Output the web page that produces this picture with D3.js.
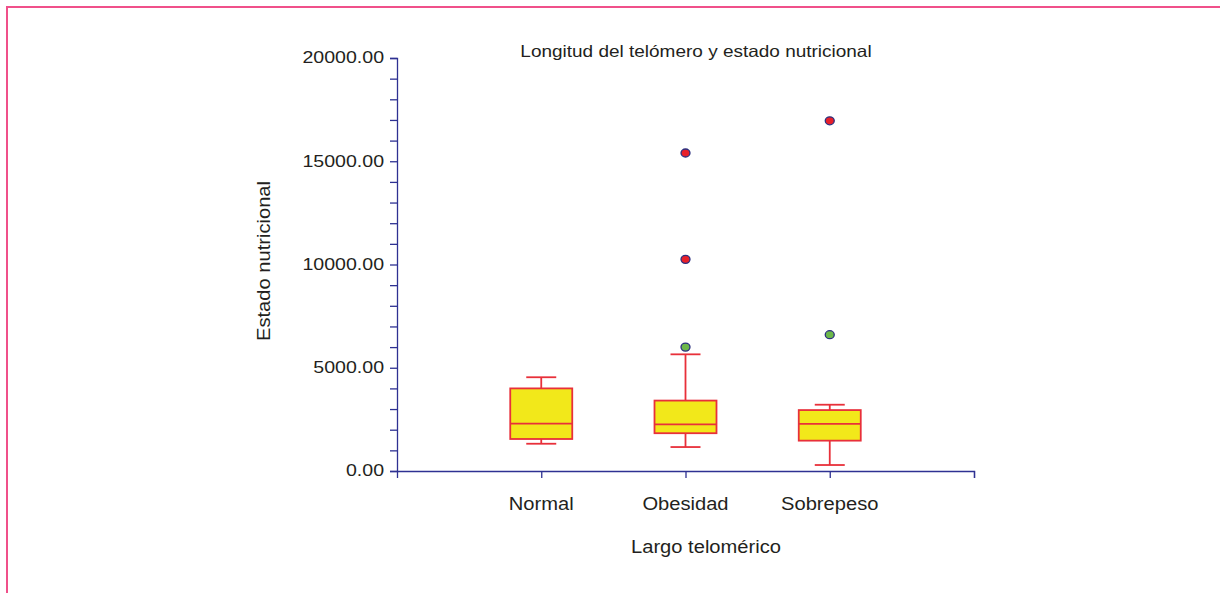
<!DOCTYPE html>
<html>
<head>
<meta charset="utf-8">
<script src="https://cdn.jsdelivr.net/npm/d3@7"></script>
<style>
  body { margin: 0; background: #fff; }
  svg text { font-family: "Liberation Sans", Arial, sans-serif; fill: #231f20; }
</style>
</head>
<body>
<div id="graf"></div>
<script>
// Données
const categories = ["Normal", "Obesidad", "Sobrepeso"];
const bigoteMin  = [1320, 1160, 290];
const cuartil1   = [1550, 1830, 1470];
const mediana    = [2290, 2260, 2280];
const cuartil3   = [4000, 3410, 2950];
const bigoteMax  = [4540, 5650, 3210];
// valores atípicos : [categoria, valor, tipo] (tipo "lejano" = rojo, "cercano" = verde)
const atipicos = [
  ["Obesidad", 6000, "cercano"],
  ["Obesidad", 10250, "lejano"],
  ["Obesidad", 15400, "lejano"],
  ["Sobrepeso", 6600, "cercano"],
  ["Sobrepeso", 16960, "lejano"]
];
const ticksMayores = [0, 5000, 10000, 15000, 20000];

const W = 1220, H = 593;
const svg = d3.select("#graf").append("svg").attr("width", W).attr("height", H);

// cadre rose (haut et gauche seulement)
svg.append("path").attr("d", "M7,593 V7 H1220")
  .attr("fill", "none").attr("stroke", "#f0508a").attr("stroke-width", 2);

const azul = "#2e3192";
const x = d3.scaleLinear().domain([0, 4]).range([397, 974]);
const y = d3.scaleLinear().domain([0, 20000]).range([471, 58]);
const pos = c => x(categories.indexOf(c) + 1);

// eje Y
const ejeY = svg.append("g").attr("transform", "translate(397,0)")
  .call(d3.axisLeft(y).tickValues(d3.range(0, 20001, 1000)).tickSize(7).tickPadding(6)
    .tickFormat(d => ticksMayores.includes(d) ? d3.format(".2f")(d) : ""));
ejeY.select(".domain").attr("stroke", azul).attr("stroke-width", 1.3);
ejeY.selectAll(".tick line").attr("stroke", azul).attr("stroke-width", 1.3);
ejeY.selectAll(".tick text").attr("font-size", 17).attr("fill", "#231f20")
  .attr("font-family", "Liberation Sans, Arial, sans-serif").attr("dy", "0.28em");

// eje X
const ejeX = svg.append("g").attr("transform", "translate(0,471)")
  .call(d3.axisBottom(x).tickValues([1, 2, 3, 4]).tickSize(7).tickFormat(""));
ejeX.select(".domain").attr("stroke", azul).attr("stroke-width", 1.3);
ejeX.selectAll(".tick line").attr("stroke", azul).attr("stroke-width", 1.3);

svg.selectAll(".etiq").data(categories).join("text")
  .attr("x", c => pos(c)).attr("y", 510)
  .attr("text-anchor", "middle").attr("font-size", 17.5).text(c => c);

// títulos
svg.append("text").attr("x", 696).attr("y", 57).attr("text-anchor", "middle")
  .attr("font-size", 16.5).text("Longitud del telómero y estado nutricional");
svg.append("text").attr("x", 706).attr("y", 553).attr("text-anchor", "middle")
  .attr("font-size", 17.5).text("Largo telomérico");
svg.append("text").attr("transform", "translate(270,261) rotate(-90)")
  .attr("text-anchor", "middle").attr("font-size", 17.5).text("Estado nutricional");

// cajas
const rojo = "#e8303a", amarillo = "#f2e81a";
const anchoCaja = 62, anchoTope = 30;
const cajas = svg.append("g");
categories.forEach((c, i) => {
  const cx = pos(c);
  const g = cajas.append("g").attr("stroke", rojo).attr("stroke-width", 1.8);
  g.append("line").attr("x1", cx).attr("x2", cx).attr("y1", y(bigoteMax[i])).attr("y2", y(cuartil3[i]));
  g.append("line").attr("x1", cx).attr("x2", cx).attr("y1", y(cuartil1[i])).attr("y2", y(bigoteMin[i]));
  g.append("line").attr("x1", cx - anchoTope / 2).attr("x2", cx + anchoTope / 2)
    .attr("y1", y(bigoteMax[i])).attr("y2", y(bigoteMax[i]));
  g.append("line").attr("x1", cx - anchoTope / 2).attr("x2", cx + anchoTope / 2)
    .attr("y1", y(bigoteMin[i])).attr("y2", y(bigoteMin[i]));
  g.append("rect").attr("x", cx - anchoCaja / 2).attr("width", anchoCaja)
    .attr("y", y(cuartil3[i])).attr("height", y(cuartil1[i]) - y(cuartil3[i]))
    .attr("fill", amarillo);
  g.append("line").attr("x1", cx - anchoCaja / 2).attr("x2", cx + anchoCaja / 2)
    .attr("y1", y(mediana[i])).attr("y2", y(mediana[i]));
});

// atípicos
svg.selectAll(".atip").data(atipicos).join("ellipse")
  .attr("cx", d => pos(d[0])).attr("cy", d => y(d[1]))
  .attr("rx", 4.5).attr("ry", 4)
  .attr("fill", d => d[2] === "lejano" ? "#e8202a" : "#6cb84a")
  .attr("stroke", "#2b2f7f").attr("stroke-width", 1.3);

// le texte de l'original est un peu étiré en largeur
svg.selectAll("text").each(function() {
  const largo = this.getComputedTextLength();
  if (largo > 0) d3.select(this).attr("textLength", largo * 1.15).attr("lengthAdjust", "spacingAndGlyphs");
});
</script>
</body>
</html>
